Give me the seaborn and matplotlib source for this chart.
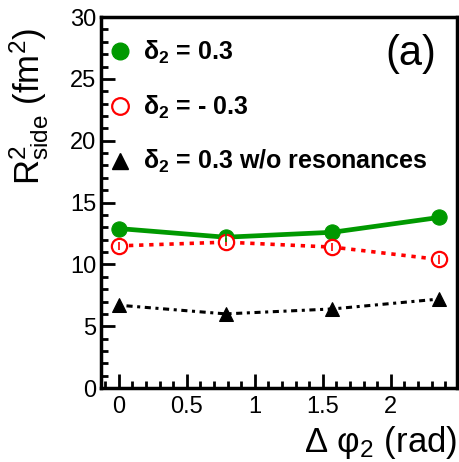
import numpy as np
import pandas as pd
import matplotlib
matplotlib.use("Agg")
import matplotlib.pyplot as plt
from matplotlib.ticker import MultipleLocator
from matplotlib.lines import Line2D
import seaborn as sns

sns.set_style("ticks")
plt.rcParams['font.family'] = ['Liberation Sans', 'DejaVu Sans']
plt.rcParams['mathtext.fontset'] = 'custom'
plt.rcParams['mathtext.rm'] = 'Liberation Sans'
plt.rcParams['mathtext.it'] = 'Liberation Sans:italic'
plt.rcParams['mathtext.bf'] = 'Liberation Sans:bold'
for k in ['text.color', 'axes.labelcolor', 'xtick.color', 'ytick.color', 'axes.edgecolor']:
    plt.rcParams[k] = 'black'

# data
dphi = [0.0, 0.785, 1.571, 2.356]
pos_delta = [12.9, 12.2, 12.6, 13.8]
neg_delta = [11.5, 11.8, 11.4, 10.4]
no_reso = [6.7, 6.0, 6.4, 7.2]
err = [0.35, 0.35, 0.35, 0.4]

labels = [r"$\mathbf{\delta_2}$ = 0.3", r"$\mathbf{\delta_2}$ = - 0.3",
          r"$\mathbf{\delta_2}$ = 0.3 w/o resonances"]

df = pd.DataFrame({"dphi": dphi, "pos": pos_delta, "neg": neg_delta, "noreso": no_reso})

fig = plt.figure(figsize=(4.6, 4.62), dpi=100)
ax = fig.add_axes([0.22, 0.16, 0.773, 0.803])

sns.lineplot(data=df, x="dphi", y="pos", ax=ax, color="#009900", lw=3.4,
             marker="o", markersize=11, markeredgecolor="#009900")
sns.lineplot(data=df, x="dphi", y="neg", ax=ax, color="red", lw=2.6,
             linestyle=(0, (1.2, 1.6)), marker="o", markersize=11,
             markerfacecolor="white", markeredgecolor="red", markeredgewidth=1.6)
sns.lineplot(data=df, x="dphi", y="noreso", ax=ax, color="black", lw=2.2,
             linestyle=(0, (1, 1.5, 2, 1.5)), marker="^", markersize=10,
             markeredgecolor="black")
ax.errorbar(dphi, neg_delta, yerr=err, fmt="none", ecolor="red", lw=1.2)
ax.errorbar(dphi, pos_delta, yerr=err, fmt="none", ecolor="#009900", lw=1.2)
ax.errorbar(dphi, no_reso, yerr=err, fmt="none", ecolor="black", lw=1.2)

ax.set_xlim(-0.13, 2.485)
ax.set_ylim(0, 30)
ax.xaxis.set_major_locator(MultipleLocator(0.5))
ax.xaxis.set_minor_locator(MultipleLocator(0.1))
ax.yaxis.set_major_locator(MultipleLocator(5))
ax.yaxis.set_minor_locator(MultipleLocator(1))
ax.xaxis.set_major_formatter(plt.FuncFormatter(lambda v, p: f"{v:g}"))
ax.tick_params(which="both", direction="in", labelsize=17, width=2, colors="black")
ax.tick_params(which="major", length=10)
ax.tick_params(which="minor", length=5)
ax.tick_params(axis="x", pad=6)
for s in ax.spines.values():
    s.set_linewidth(2.5)
    s.set_color("black")
    s.set_visible(True)

ax.set_xlabel(r"Δ φ$_2$ (rad)", fontsize=25, loc="right", labelpad=4)
ax.set_ylabel(r"R$^2_{\rm side}$ (fm$^2$)", fontsize=25, loc="top")
ax.yaxis.set_label_coords(-0.14, 0.97)

handles = [
    Line2D([], [], ls="none", marker="o", ms=12, color="#009900"),
    Line2D([], [], ls="none", marker="o", ms=12, mfc="white", mec="red", mew=1.6),
    Line2D([], [], ls="none", marker="^", ms=11, color="black"),
]
leg = ax.legend(handles, labels, loc="upper left", frameon=False,
                prop={"size": 18, "weight": "bold"}, labelspacing=1.1,
                handlelength=0.8, handletextpad=0.5, borderaxespad=0.1,
                bbox_to_anchor=(-0.01, 0.975))

ax.text(0.87, 0.9, "(a)", transform=ax.transAxes, fontsize=30, ha="center", va="center")

fig.savefig("out.png", dpi=100)
